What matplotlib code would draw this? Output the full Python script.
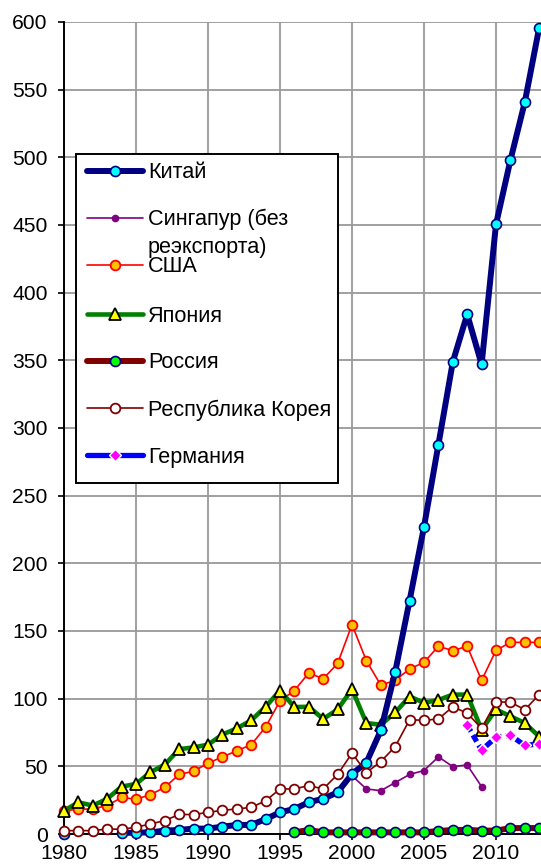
import numpy as np
import matplotlib.pyplot as plt
from matplotlib.lines import Line2D
from matplotlib.patches import Rectangle

plt.rcParams['font.family'] = ['Liberation Sans', 'DejaVu Sans']

W, H = 541, 867
nan = np.nan

# данные (чтение с картинки)
years_china = list(range(1980, 2014))
china = [0.0, nan, nan, nan, 0.8, 1.0, 1.2, 2.5, 3.0, 4.0, 4.0, 5.4, 6.7, 6.7, 11, 16,
         18.5, 23.5, 26, 30.8, 44.4, 52.8, 76.5, 119.7, 172.5, 227, 287.7, 348.8,
         384, 347, 450.5, 497.8, 540.8, 595.8]

years_sing = list(range(2000, 2010))
singapore = [43, 33.3, 32, 38, 44, 46.9, 57, 49.8, 51, 35]

years_usa = list(range(1980, 2014))
usa = [17.2, 18.3, 18.5, 21, 27, 25.7, 29, 34.5, 44, 46.4, 52.3, 57, 61.4, 66, 79, 98.4,
       106, 119, 114.7, 126, 154.7, 128, 110, 113.5, 122, 126.8, 138.7, 135.5, 138.7,
       113.5, 135.7, 141.6, 141.6, 141.6]

years_japan = list(range(1980, 2014))
japan = [17.2, 23.4, 21, 26, 35, 37, 45.6, 51.3, 62.7, 64, 66, 73.5, 78, 84, 94, 106,
         93.8, 94, 85, 92, 107, 82, 80.7, 89.8, 101.6, 97, 99, 103, 103, 77, 92, 87, 82, 72]

years_russia = list(range(1996, 2014))
russia = [1.2, 3, 1.2, 1.2, 1.2, 1.2, 1.2, 1.2, 1.2, 1.2, 2.2, 3, 3, 2.5, 2.5, 4.4, 4.4, 4.4]

years_korea = list(range(1980, 2014))
korea = [2.5, 2.5, 2.5, 3.7, 3.5, 5, 7.4, 9.9, 14.5, 14.3, 16, 17.5, 18.5, 19.7, 24.5, 33.3,
         33.3, 35.8, 33.3, 44, 59.7, 45.4, 53.5, 64.6, 84.4, 84, 85, 94, 89.3, 78, 97.5,
         97.5, 91.8, 103]

years_germany = list(range(2008, 2014))
germany = [80.5, 62, 71.5, 73, 65.4, 66.6]

labels = ['Китай', 'Сингапур (без\nреэкспорта)', 'США', 'Япония', 'Россия',
          'Республика Корея', 'Германия']

# стили серий
styles = {
    'Китай': dict(color='#000080', lw=4.3, marker='o', ms=7.2, mfc='#00FFFF', mec='#000080', mew=1.2),
    'Сингапур (без\nреэкспорта)': dict(color='#800080', lw=1.2, marker='o', ms=4.5, mfc='#800080', mec='#800080', mew=1),
    'США': dict(color='#FF0000', lw=1.2, marker='o', ms=7, mfc='#FFC000', mec='#FF0000', mew=1.3),
    'Япония': dict(color='#008000', lw=3.3, marker='^', ms=8.5, mfc='#FFFF00', mec='#000000', mew=1.3),
    'Россия': dict(color='#800000', lw=4.3, marker='o', ms=7.2, mfc='#00FF00', mec='#000080', mew=1.2),
    'Республика Корея': dict(color='#800000', lw=1.2, marker='o', ms=7, mfc='#FFFFFF', mec='#800000', mew=1.3),
    'Германия': dict(color='#0000FF', lw=3.8, ls=(0, (1.4, 0.8)), marker='D', ms=6, mfc='#FF00FF', mec='#FFFFFF', mew=1.0),
}

fig = plt.figure(figsize=(W / 100, H / 100), dpi=100)
ax = fig.add_axes([64 / W, (H - 834) / H, (W - 64) / W, (834 - 22) / H])

series = [
    ('Сингапур (без\nреэкспорта)', years_sing, singapore),
    ('США', years_usa, usa),
    ('Япония', years_japan, japan),
    ('Россия', years_russia, russia),
    ('Германия', years_germany, germany),
    ('Китай', years_china, china),
    ('Республика Корея', years_korea, korea),
]
for i, (name, xs, ys) in enumerate(series):
    ax.plot(xs, ys, clip_on=False, zorder=3 + i, **styles[name])

ax.set_xlim(1980, 1980 + (W - 64) / 14.4)
ax.set_ylim(0, 600)
ax.set_xticks(range(1980, 2011, 5))
ax.set_yticks(range(0, 601, 50))
ax.grid(True, color='#999999', lw=1.3)
ax.set_axisbelow(True)
for s in ['top', 'right']:
    ax.spines[s].set_visible(False)
for s in ['left', 'bottom']:
    ax.spines[s].set_color('black')
    ax.spines[s].set_linewidth(1.4)
    ax.spines[s].set_zorder(2.5)
ax.tick_params(axis='both', length=4.3, width=1.2, color='black', labelsize=15.2)
ax.tick_params(axis='y', pad=7.5)
ax.tick_params(axis='x', pad=3)

# легенда вручную (как в Excel: подпись Сингапура выходит за строку)
def fx(px):
    return px / W

def fy(py):
    return 1 - py / H

fig.add_artist(Rectangle((fx(76), fy(483)), fx(338) - fx(76), fy(154) - fy(483),
                         transform=fig.transFigure, facecolor='white', edgecolor='black', lw=1.4, zorder=10))
rows = [171, 218, 265, 314, 361, 408, 455]
for name, y in zip(labels, rows):
    st = dict(styles[name])
    ln = Line2D([fx(87), fx(143)], [fy(y), fy(y)], transform=fig.transFigure,
                color=st['color'], lw=st['lw'], solid_capstyle='round', zorder=11)
    mk = Line2D([fx(115)], [fy(y)], transform=fig.transFigure, ls='none', marker=st['marker'],
                ms=st['ms'], mfc=st['mfc'], mec=st['mec'], mew=st['mew'], zorder=12)
    fig.add_artist(ln)
    fig.add_artist(mk)
    if '\n' in name:
        a, b = name.split('\n')
        fig.text(fx(148), fy(y + 1), a, va='center', ha='left', fontsize=15.6, zorder=13)
        fig.text(fx(148), fy(y + 29), b, va='center', ha='left', fontsize=15.6, zorder=13)
    else:
        fig.text(fx(148), fy(y + 2), name, va='center', ha='left', fontsize=15.6, zorder=13)

fig.savefig('out.png', dpi=100)
